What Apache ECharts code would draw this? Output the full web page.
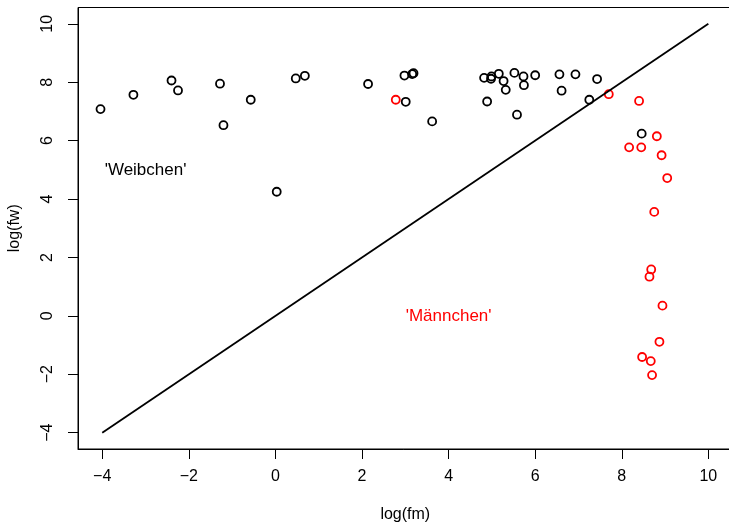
<!DOCTYPE html>
<html><head><meta charset="utf-8">
<script src="https://cdn.jsdelivr.net/npm/echarts@6/dist/echarts.min.js"></script>
<style>html,body{margin:0;padding:0;background:#fff}#c{width:729px;height:523px}</style>
</head><body><div id="c"></div>
<script>
const femaleX = [-4.04,-3.28,-2.40,-2.25,-1.28,-1.20,-0.57,0.03,0.47,0.68,2.14,2.98,3.01,3.16,3.19,3.62,4.82,4.89,4.99,4.98,5.16,5.27,5.32,5.52,5.58,5.73,5.74,6.00,6.56,6.61,6.93,7.25,7.43,8.46];
const femaleY = [7.08,7.57,8.06,7.72,7.95,6.53,7.40,4.25,8.13,8.22,7.94,8.23,7.33,8.28,8.31,6.66,8.15,7.34,8.20,8.12,8.29,8.04,7.74,8.32,6.89,8.20,7.90,8.24,8.27,7.71,8.27,7.40,8.11,6.24];
const maleX = [2.78,7.70,8.40,8.17,8.45,8.81,8.92,9.05,8.75,8.68,8.64,8.94,8.87,8.47,8.67,8.70];
const maleY = [7.40,7.59,7.36,5.77,5.77,6.15,5.50,4.72,3.56,1.59,1.34,0.35,-0.89,-1.41,-1.55,-2.03];
const diagX = [-4, 10];
const diagY = [-4, 10];
const xTicks = [-4,-2,0,2,4,6,8,10];
const yTicks = [-4,-2,0,2,4,6,8,10];
const labelWeib = {text: "'Weibchen'", x: -3, y: 5};
const labelMaen = {text: "'Männchen'", x: 4, y: 0};

const FONT = 'Liberation Sans, Arial, sans-serif';
const fmt = v => (v < 0 ? '\u2212' + Math.abs(v) : String(v));
const chart = echarts.init(document.getElementById('c'), null, {renderer: 'canvas'});
const circle = (col) => ({color: 'rgba(0,0,0,0)', borderColor: col, borderWidth: 1.8, opacity: 1});
chart.setOption({
  animation: false,
  backgroundColor: '#fff',
  grid: {left: 78, top: 7.5, right: -3.6, bottom: 74, show: true, borderColor: '#000', borderWidth: 1, backgroundColor: 'transparent', containLabel: false, outerBoundsMode: 'none'},
  xAxis: {
    type: 'value', min: -4.56, max: 10.56, interval: 2,
    name: 'log(fm)', nameLocation: 'middle', nameGap: 58,
    nameTextStyle: {fontFamily: FONT, fontSize: 16, color: '#000'},
    axisLine: {show: true, onZero: false, lineStyle: {color: '#000', width: 1}},
    axisTick: {show: true, length: 10, lineStyle: {color: '#000'}, customValues: xTicks},
    axisLabel: {show: true, margin: 20, fontFamily: FONT, fontSize: 16, color: '#000', formatter: fmt, customValues: xTicks},
    splitLine: {show: false}
  },
  yAxis: {
    type: 'value', min: -4.56, max: 10.56, interval: 2,
    name: 'log(fw)', nameLocation: 'middle', nameGap: 55,
    nameTextStyle: {fontFamily: FONT, fontSize: 16, color: '#000'},
    axisLine: {show: true, onZero: false, lineStyle: {color: '#000', width: 1}},
    axisTick: {show: true, length: 10, lineStyle: {color: '#000'}, customValues: yTicks},
    axisLabel: {show: true, margin: 22, rotate: 90, fontFamily: FONT, fontSize: 16, color: '#000', formatter: fmt, customValues: yTicks},
    splitLine: {show: false}
  },
  series: [
    {type: 'line', data: diagX.map((x, i) => [x, diagY[i]]), symbol: 'none', lineStyle: {color: '#000', width: 1.8}, silent: true},
    {type: 'scatter', data: femaleX.map((x, i) => [x, femaleY[i]]), symbol: 'circle', symbolSize: 8, itemStyle: circle('#000')},
    {type: 'scatter', data: maleX.map((x, i) => [x, maleY[i]]), symbol: 'circle', symbolSize: 8, itemStyle: circle('#ff0000')},
    {type: 'scatter', symbolSize: 0, data: [[labelWeib.x, labelWeib.y]], itemStyle: {opacity: 1},
      label: {show: true, position: 'inside', formatter: labelWeib.text, fontFamily: FONT, fontSize: 17, color: '#000'}},
    {type: 'scatter', symbolSize: 0, data: [[labelMaen.x, labelMaen.y]], itemStyle: {opacity: 1},
      label: {show: true, position: 'inside', formatter: labelMaen.text, fontFamily: FONT, fontSize: 17, color: '#ff0000'}}
  ]
});
</script></body></html>
